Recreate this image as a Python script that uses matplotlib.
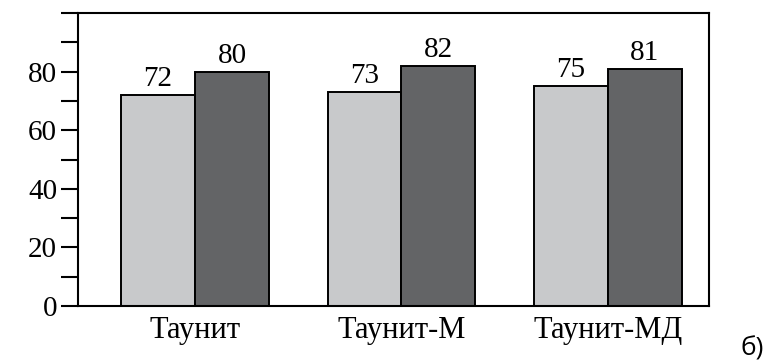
import numpy as np
import matplotlib
matplotlib.use("Agg")
import matplotlib.pyplot as plt

categories = ["Таунит", "Таунит-М", "Таунит-МД"]
series_a = [72, 73, 75]
series_b = [80, 82, 81]

plt.rcParams['font.family'] = ['Liberation Serif', 'DejaVu Serif']

fig = plt.figure(figsize=(7.77, 3.62), dpi=100)
ax = fig.add_axes([0.1004, 0.1547, 0.812, 0.8093])

x = np.arange(len(categories))
w = 0.358
bars_a = ax.bar(x - w / 2, series_a, w, color="#c8c9cb", edgecolor="black", linewidth=1.4)
bars_b = ax.bar(x + w / 2, series_b, w, color="#636466", edgecolor="black", linewidth=1.4)

for bars in (bars_a, bars_b):
    for b in bars:
        ax.annotate(str(int(b.get_height())), (b.get_x() + b.get_width() / 2, b.get_height()),
                    xytext=(0, 2), textcoords="offset points", ha="center", va="bottom", fontsize=21)

ax.set_xlim(-0.567, 2.49)
ax.set_ylim(0, 100)
ax.set_yticks(np.arange(0, 101, 10))
ax.set_yticklabels([str(v) if v % 20 == 0 and v < 100 else "" for v in range(0, 101, 10)], fontsize=21)
ax.set_xticks(x)
ax.set_xticklabels(categories, fontsize=22)
ax.tick_params(axis="y", length=12, width=1.5, pad=3)
ax.tick_params(axis="x", length=0, pad=7)
for s in ax.spines.values():
    s.set_linewidth(1.5)

fig.text(0.968, 0.035, "б)", fontsize=19, family="Open Sans", ha="center", va="center")

fig.savefig("out.png", dpi=100)
